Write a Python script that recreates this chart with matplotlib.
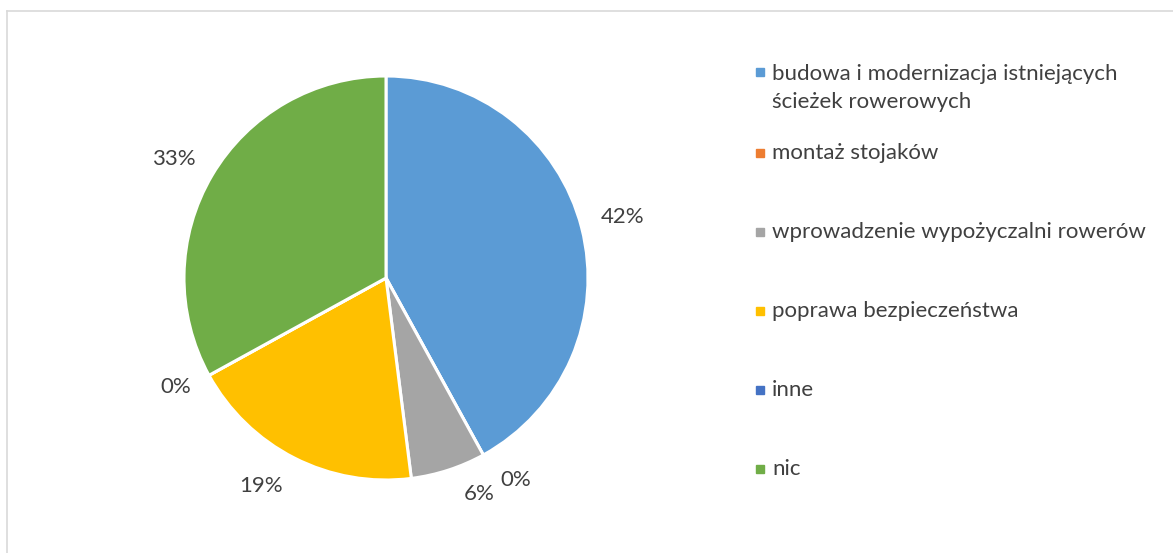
import matplotlib
matplotlib.use("Agg")
import matplotlib.pyplot as plt
from matplotlib.patches import Rectangle
from matplotlib.lines import Line2D

categories = ["budowa i modernizacja istniejących\nścieżek rowerowych",
              "montaż stojaków",
              "wprowadzenie wypożyczalni rowerów",
              "poprawa bezpieczeństwa",
              "inne",
              "nic"]
values = [42, 0, 6, 19, 0, 33]
labels = ["42%", "0%", "6%", "19%", "0%", "33%"]
colors = ["#5B9BD5", "#ED7D31", "#A5A5A5", "#FFC000", "#4472C4", "#70AD47"]
# label positions (in pie-radius units) as placed in the reference
label_pos = [(1.17, 0.30), (0.64, -1.00), (0.46, -1.07), (-0.62, -1.03), (-1.04, -0.54), (-1.05, 0.59)]

W, H = 1173, 553
fig = plt.figure(figsize=(W / 100, H / 100), dpi=100)
plt.rcParams['font.family'] = ['Lato', 'DejaVu Sans']
tc = "#404040"
fs = 16

# border (top and left lines)
fig.add_artist(Line2D([7 / W, 1], [1 - 11 / H, 1 - 11 / H], color="#D9D9D9", lw=1.2))
fig.add_artist(Line2D([7 / W, 7 / W], [0, 1 - 11 / H], color="#D9D9D9", lw=1.2))

cx, cy, r = 386, 278, 202
ax = fig.add_axes([(cx - r) / W, (H - cy - r) / H, 2 * r / W, 2 * r / H])
ax.pie(values, colors=colors, startangle=90, counterclock=False, radius=1,
       wedgeprops=dict(edgecolor="white", linewidth=2.2))
ax.set_xlim(-1, 1)
ax.set_ylim(-1, 1)
ax.set_aspect("equal")
ax.axis("off")
for (x, y), lab in zip(label_pos, labels):
    ax.text(x, y, lab, ha="center", va="center", fontsize=fs, color=tc, clip_on=False)

# legend
ys = [72, 153, 232, 311, 390, 469]
for y, c, name in zip(ys, colors, categories):
    s = 8
    fig.add_artist(Rectangle((756 / W, (H - y - s / 2) / H), s / W, s / H, color=c,
                             transform=fig.transFigure))
    if "\n" in name:
        fig.text(772 / W, (H - y + 8) / H, name, ha="left", va="top",
                 fontsize=fs, color=tc, linespacing=1.5)
    else:
        fig.text(772 / W, (H - y) / H, name, ha="left", va="center",
                 fontsize=fs, color=tc)

fig.savefig("out.png", dpi=100, facecolor="white")
